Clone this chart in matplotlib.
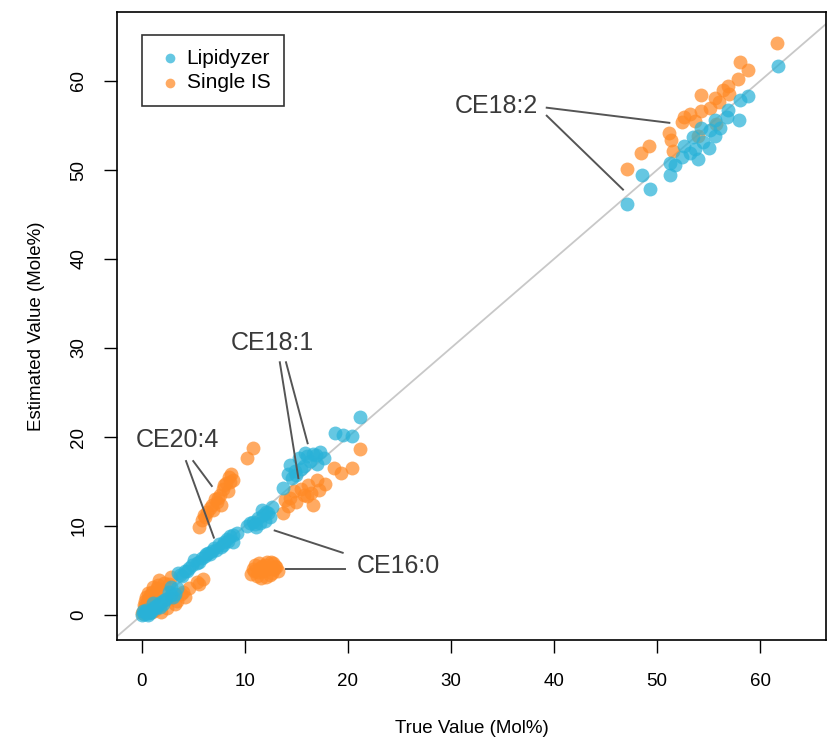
import numpy as np
import matplotlib.pyplot as plt

plt.rcParams['font.family'] = ['Liberation Sans', 'DejaVu Sans']

# Lipidyzer estimates (true, estimated)
lipidyzer_x = [0.0, 0.2, 0.3, 0.5, 0.6, 0.8, 1.0, 1.2, 1.4, 1.6, 1.9, 2.1, 2.4, 2.8, 3.2, 2.8, 3.0, 0.4, 1.1, 1.5,
               0.9, 1.8, 2.2, 2.6, 3.4, 0.1, 0.7,
               3.5, 3.9, 4.2, 4.6, 5.1, 5.4, 5.8, 6.4, 6.1, 6.8, 7.2, 7.7, 7.5, 8.0, 8.3, 8.6, 8.9, 8.9, 9.2,
               4.4, 4.9, 5.6, 6.6, 7.0, 7.9, 8.4, 3.7, 6.2,
               10.2, 10.8, 11.1, 11.3, 11.8, 12.1, 12.4, 12.6, 11.5, 12.0, 10.5, 11.0, 11.7, 12.3,
               13.7, 14.2, 14.4, 14.6, 15.0, 15.3, 15.7, 15.8, 16.3, 16.6, 17.0, 17.3, 17.7, 18.8, 19.5, 20.4, 21.2,
               14.9, 16.0, 16.9, 15.5,
               61.7, 58.8, 58.1, 56.9, 56.8, 58.0, 55.6, 56.1, 54.3, 55.1, 55.6, 53.5, 54.5, 52.6, 53.7, 55.0,
               53.2, 52.4, 54.0, 51.3, 51.7, 51.3, 48.5, 49.3, 47.1]
lipidyzer_y = [0.0, 0.1, 0.4, 0.2, 0.0, 0.5, 0.7, 0.9, 0.8, 1.2, 1.5, 1.3, 1.8, 2.2, 2.4, 3.2, 2.0, 0.6, 1.4, 1.0,
               0.3, 0.9, 1.7, 2.6, 3.0, 0.5, 0.2,
               4.7, 4.4, 5.0, 5.3, 6.2, 5.8, 6.4, 7.0, 6.6, 7.2, 7.3, 7.7, 8.0, 8.2, 8.6, 8.9, 9.0, 8.2, 9.2,
               4.9, 5.6, 6.0, 6.9, 7.5, 7.9, 8.3, 4.5, 6.9,
               10.0, 10.5, 9.9, 10.9, 11.2, 11.6, 11.0, 12.1, 10.3, 10.6, 10.4, 10.2, 11.8, 11.5,
               14.3, 15.9, 16.9, 15.4, 15.7, 17.7, 16.7, 18.2, 17.3, 18.1, 17.0, 18.3, 17.6, 20.4, 20.2, 20.1, 22.3,
               16.2, 17.9, 18.0, 16.4,
               61.7, 58.3, 57.9, 56.7, 56.0, 55.6, 55.6, 54.7, 54.7, 54.5, 53.8, 53.7, 53.2, 52.7, 52.4, 52.5,
               51.9, 51.5, 51.2, 50.8, 50.6, 49.4, 49.4, 47.9, 46.2]

# Single IS estimates (true, estimated)
single_x = [0.0, 0.2, 0.3, 0.5, 0.6, 0.8, 1.0, 0.4, 0.9, 1.2, 1.4, 1.7, 2.0, 1.5, 2.8, 2.6, 1.9, 2.5, 2.8, 3.2,
            3.8, 4.6, 5.4, 4.2, 1.0, 0.7, 5.6, 5.9, 0.3, 0.6, 1.1, 1.6, 2.2, 0.2, 0.8, 1.3, 3.4, 4.0,
            10.8, 10.2, 8.7, 8.9, 8.2, 7.9, 8.4, 7.6, 7.3, 7.7, 6.8, 6.9, 6.3, 6.1, 5.8, 5.6,
            8.5, 8.0, 7.1, 6.6, 6.0, 7.4, 8.6,
            10.6, 10.9, 11.2, 11.5, 11.8, 12.0, 12.3, 12.6, 12.9, 13.2, 11.6, 12.2, 11.0, 12.7,
            11.3, 11.9, 12.4, 12.8, 11.4, 12.1, 13.0, 10.8, 12.5, 11.7,
            21.2, 18.7, 19.3, 20.4, 17.0, 16.1, 17.8, 15.5, 17.2, 16.4, 15.7, 14.4, 15.0, 16.6, 14.2, 13.7,
            14.8, 16.0, 13.9,
            61.6, 58.1, 58.8, 57.9, 56.9, 56.4, 57.0, 54.3, 55.6, 56.0, 55.1, 54.3, 53.2, 52.6, 53.7, 52.4,
            55.7, 51.2, 51.4, 54.0, 49.2, 48.4, 51.6, 47.1]
single_y = [0.2, 0.6, 1.0, 1.4, 1.8, 2.2, 2.6, 2.0, 1.2, 1.8, 2.4, 3.9, 2.8, 3.0, 4.3, 3.5, 0.4, 0.8, 1.9, 1.2,
            2.4, 3.0, 3.7, 2.0, 0.3, 0.9, 3.5, 4.0, 1.6, 2.5, 3.1, 3.4, 3.6, 1.1, 0.4, 0.6, 1.6, 2.6,
            18.8, 17.7, 15.9, 15.2, 14.8, 14.2, 13.9, 13.5, 12.7, 12.4, 12.4, 11.8, 11.6, 11.0, 10.7, 9.9,
            15.5, 14.6, 13.0, 12.0, 11.2, 13.2, 14.9,
            4.6, 5.0, 4.4, 5.3, 4.9, 5.6, 5.2, 4.7, 5.5, 5.0, 4.2, 6.0, 5.6, 5.9,
            4.8, 5.3, 4.5, 5.2, 5.8, 4.3, 5.4, 5.2, 6.0, 5.5,
            18.7, 16.5, 16.0, 16.5, 15.2, 14.6, 14.7, 14.2, 14.0, 13.7, 13.5, 13.1, 12.7, 12.4, 12.2, 11.5,
            13.9, 13.4, 12.9,
            64.3, 62.1, 61.2, 60.2, 59.4, 59.0, 58.5, 58.4, 58.1, 57.6, 57.0, 56.6, 56.3, 55.9, 55.5, 55.4,
            55.2, 54.2, 53.4, 53.8, 52.7, 51.9, 52.1, 50.1]

# labels: (text, text position, list of line segments)
labels = [
    ('CE18:2', (34.4, 57.2), [((39.3, 57.0), (51.2, 55.3)), ((39.3, 56.1), (46.7, 47.8))]),
    ('CE18:1', (12.7, 30.6), [((13.4, 28.4), (15.2, 15.4)), ((14.0, 28.4), (16.1, 19.3))]),
    ('CE20:4', (3.5, 19.7), [((4.3, 17.3), (7.0, 8.7)), ((5.0, 17.3), (6.8, 14.5))]),
    ('CE16:0', (24.9, 5.5), [((19.5, 7.0), (12.9, 9.5)), ((19.7, 5.2), (14.0, 5.2))]),
]

fig = plt.figure(figsize=(8.27, 7.42), dpi=100)
ax = fig.add_axes([117 / 827, 102 / 742, 709 / 827, 628 / 742])

ax.plot([-10, 80], [-10, 80], color='#c8c8c8', lw=1.3, zorder=1)

blue = '#29b2d8'
orange = '#ff8a26'
ax.scatter(lipidyzer_x, lipidyzer_y, s=100, color=blue, alpha=0.72, lw=0, zorder=3, label='Lipidyzer')
ax.scatter(single_x, single_y, s=100, color=orange, alpha=0.72, lw=0, zorder=2, label='Single IS')

for text, pos, segs in labels:
    ax.text(pos[0], pos[1], text, fontsize=18, color='#3a3a3a', ha='center', va='center')
    for (x0, y0), (x1, y1) in segs:
        ax.plot([x0, x1], [y0, y1], color='#555555', lw=1.4, zorder=4)

ax.set_xlim(-2.4, 66.4)
ax.set_ylim(-2.8, 67.75)
ax.set_xticks(np.arange(0, 61, 10))
ax.set_yticks(np.arange(0, 61, 10))
ax.tick_params(direction='out', length=9.5, width=1.0, labelsize=13.5, pad=14)
ax.tick_params(axis='y', pad=12)
plt.setp(ax.get_yticklabels(), rotation=90, va='center')
for sp in ax.spines.values():
    sp.set_linewidth(1.2)

ax.set_xlabel('True Value (Mol%)', fontsize=13.5, labelpad=22)
ax.set_ylabel('Estimated Value (Mole%)', fontsize=13.5, labelpad=18)

leg = ax.legend(loc='upper left', bbox_to_anchor=(0.035, 0.963), fontsize=15, frameon=True, fancybox=False,
                edgecolor='black', borderpad=0.65, labelspacing=0.25, handletextpad=0.1, handlelength=1.4,
                markerscale=0.7, borderaxespad=0)
leg.get_frame().set_linewidth(1.2)

plt.savefig('out.png', dpi=100)
